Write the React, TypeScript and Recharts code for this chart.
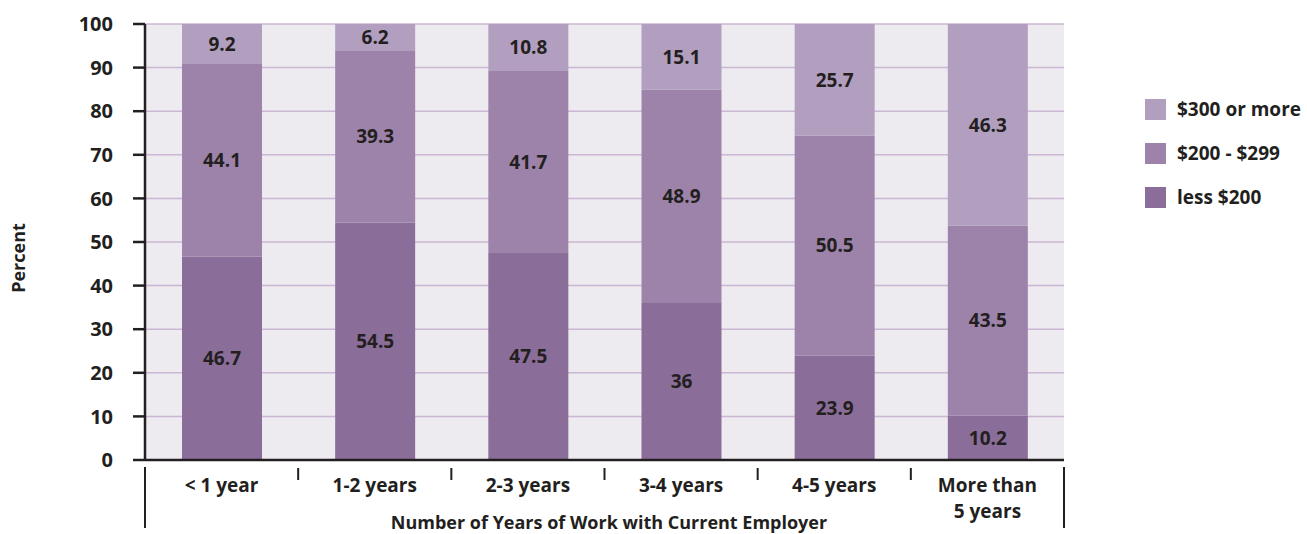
import { BarChart, Bar, XAxis, YAxis, CartesianGrid, LabelList } from 'recharts';

const categories = ['< 1 year', '1-2 years', '2-3 years', '3-4 years', '4-5 years', 'More than\n5 years'];
const lessThan200 = [46.7, 54.5, 47.5, 36, 23.9, 10.2];
const from200to299 = [44.1, 39.3, 41.7, 48.9, 50.5, 43.5];
const over300 = [9.2, 6.2, 10.8, 15.1, 25.7, 46.3];
const yTicks = [0, 10, 20, 30, 40, 50, 60, 70, 80, 90, 100];

const data = categories.map((name, i) => ({
  name,
  low: lessThan200[i],
  mid: from200to299[i],
  high: over300[i],
}));

const FONT = '"Open Sans", "DejaVu Sans", sans-serif';
const INK = '#231f20';
const BAND = (1064 - 145) / 6;
const FS = 19;

const legendItems = [
  { label: '$300 or more', color: '#b29fc0' },
  { label: '$200 - $299', color: '#9d83aa' },
  { label: 'less $200', color: '#8b6d99' },
];

function CategoryTick(props: any) {
  const { x, y, payload, index } = props;
  const lines = String(payload.value).split('\n');
  return (
    <g>
      {lines.map((line, i) => (
        <text
          key={i}
          x={x}
          y={y + 24 + i * 26}
          textAnchor="middle"
          fontFamily={FONT}
          fontWeight={700}
          fontSize={FS}
          fill={INK}
        >
          {line}
        </text>
      ))}
      {index < categories.length - 1 && (
        <line x1={x + BAND / 2} x2={x + BAND / 2} y1={y} y2={y + 12} stroke={INK} strokeWidth={2} />
      )}
      {index === 0 && (
        <line x1={x - BAND / 2} x2={x - BAND / 2} y1={y - 1} y2={y + 60} stroke={INK} strokeWidth={2} />
      )}
      {index === categories.length - 1 && (
        <line x1={x + BAND / 2} x2={x + BAND / 2} y1={y - 1} y2={y + 60} stroke={INK} strokeWidth={2} />
      )}
    </g>
  );
}

const labelStyle = { fontFamily: FONT, fontWeight: 700, fontSize: FS, fill: INK };

export default function App() {
  return (
    <div style={{ position: 'relative', width: 1307, height: 534 }}>
      <style>{`body{margin:0}`}</style>
      <BarChart width={1307} height={534} data={data} margin={{ top: 24, right: 243, bottom: 0, left: 0 }} barSize={80}>
        <CartesianGrid vertical={false} stroke="#cbb7d3" strokeWidth={1.5} fill="#edeaf0" />
        <XAxis
          dataKey="name"
          height={74}
          tick={<CategoryTick />}
          tickLine={false}
          axisLine={{ stroke: INK, strokeWidth: 2.5 }}
          interval={0}
          label={() => (
            <text x={609} y={529} textAnchor="middle" fontFamily={FONT} fontWeight={700} fontSize={FS - 1} fill={INK}>
              Number of Years of Work with Current Employer
            </text>
          )}
        />
        <YAxis
          width={145}
          domain={[0, 100]}
          ticks={yTicks}
          allowDataOverflow
          tickSize={12}
          tickMargin={20}
          tickLine={{ stroke: INK, strokeWidth: 2.5 }}
          axisLine={{ stroke: INK, strokeWidth: 2.5 }}
          tick={{ fontFamily: FONT, fontWeight: 700, fontSize: FS + 1, fill: INK }}
          label={() => (
            <text
              transform="translate(25,258) rotate(-90)"
              textAnchor="middle"
              fontFamily={FONT}
              fontWeight={700}
              fontSize={FS - 1}
              fill={INK}
            >
              Percent
            </text>
          )}
        />
        <Bar dataKey="low" stackId="a" fill="#8b6d99" isAnimationActive={false}>
          <LabelList dataKey="low" position="center" style={labelStyle} />
        </Bar>
        <Bar dataKey="mid" stackId="a" fill="#9d83aa" isAnimationActive={false}>
          <LabelList dataKey="mid" position="center" style={labelStyle} />
        </Bar>
        <Bar dataKey="high" stackId="a" fill="#b29fc0" isAnimationActive={false}>
          <LabelList dataKey="high" position="center" style={labelStyle} />
        </Bar>
      </BarChart>
      <div style={{ position: 'absolute', left: 1145, top: 87 }}>
        {legendItems.map((item) => (
          <div key={item.label} style={{ display: 'flex', alignItems: 'center', height: 44 }}>
            <div style={{ width: 21, height: 21, background: item.color, marginRight: 11 }} />
            <span style={{ fontFamily: FONT, fontWeight: 700, fontSize: FS, color: INK }}>{item.label}</span>
          </div>
        ))}
      </div>
    </div>
  );
}
